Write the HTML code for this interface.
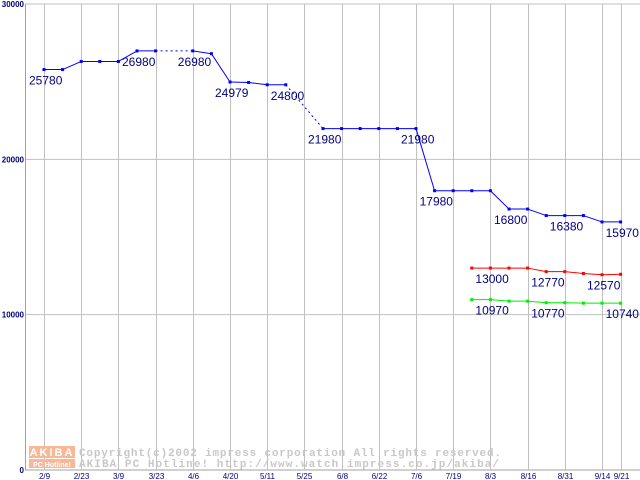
<!DOCTYPE html>
<html><head><meta charset="utf-8"><style>
html,body{margin:0;padding:0;background:#fff;width:640px;height:480px;overflow:hidden}
svg{display:block}
</style></head><body>
<svg id="chart" width="640" height="480" xmlns="http://www.w3.org/2000/svg" font-family="Liberation Sans, sans-serif">
<g id="grid"></g>
<g id="wm">
<rect x="29" y="446" width="46" height="12" fill="#f8b898"/>
<text x="52" y="456" font-size="11" fill="#fff" text-anchor="middle" font-weight="bold" letter-spacing="2">AKIBA</text>
<rect x="29" y="459" width="46" height="9" fill="#f8b898"/>
<text x="52" y="467" font-size="7" fill="#fff" text-anchor="middle" font-weight="bold">PC Hotline!</text>
<text x="79" y="456" font-size="11" fill="#c8c8c8" font-family="Liberation Mono, monospace" font-weight="bold" textLength="422" lengthAdjust="spacing">Copyright(c)2002 impress corporation All rights reserved.</text>
<text x="79" y="467" font-size="11" fill="#c8c8c8" font-family="Liberation Mono, monospace" font-weight="bold" textLength="420" lengthAdjust="spacing">AKIBA PC Hotline!  http://www.watch.impress.co.jp/akiba/</text>
</g>
<g id="series"></g>
</svg>
<script>
const xLabels=["2/9","2/23","3/9","3/23","4/6","4/20","5/11","5/25","6/8","6/22","7/6","7/19","8/3","8/16","8/31","9/14","9/21"];
const yTicks=[0,10000,20000,30000];
const blueValues=[25780,25780,26300,26300,26300,26980,26980,null,26980,26800,24979,24950,24800,24800,null,21980,21980,21980,21980,21980,21980,17980,17980,17980,17980,16800,16800,16380,16380,16380,15970,15970];
const redValues=[null,null,null,null,null,null,null,null,null,null,null,null,null,null,null,null,null,null,null,null,null,null,null,13000,13000,13000,13000,12770,12770,12650,12570,12600];
const greenValues=[null,null,null,null,null,null,null,null,null,null,null,null,null,null,null,null,null,null,null,null,null,null,null,10970,10970,10870,10870,10770,10770,10740,10740,10740];
const blueLabels=[[0,"25780"],[5,"26980"],[8,"26980"],[10,"24979"],[13,"24800"],[15,"21980"],[20,"21980"],[21,"17980"],[25,"16800"],[28,"16380"],[31,"15970"]];
const redLabels=[[24,"13000"],[27,"12770"],[30,"12570"]];
const greenLabels=[[24,"10970"],[27,"10770"],[31,"10740"]];

const NS="http://www.w3.org/2000/svg";
const X0=44,DX=18.6,Y0=470,YT=4,YMAX=30000;
const xs=i=>X0+DX*i;
const ys=v=>Y0-(v/YMAX)*(Y0-YT);
function mk(tag,attrs,parent){const e=document.createElementNS(NS,tag);for(const k in attrs)e.setAttribute(k,attrs[k]);parent.appendChild(e);return e;}
const grid=document.getElementById('grid'),ser=document.getElementById('series');
yTicks.forEach(v=>{
 const l=mk('line',{x1:25,x2:640,y1:ys(v),y2:ys(v),stroke:v===0?'#a0a0a0':'#c0c0c0','stroke-width':1},grid);
 
 
 const t=mk('text',{x:24,y:ys(v)+3,'font-size':8,'font-weight':'bold',fill:'#000080','text-anchor':'end'},grid);
 t.textContent=v;
 
 
});
const ax=mk('line',{x1:25.5,x2:25.5,y1:4,y2:470,stroke:'#a0a0a0'},grid);


xLabels.forEach((lab,k)=>{
 const i=k<16?k*2:31;
 const x=Math.round(xs(i))+0.5;
 const l=mk('line',{x1:x,x2:x,y1:4,y2:470,stroke:'#c0c0c0'},grid);
 
 
 const t=mk('text',{x:x,y:479,'font-size':8,fill:'#000080','text-anchor':'middle'},grid);
 t.textContent=lab;
 
 
});
function drawSeries(vals,color,labels,name){
 const g=mk('g',{},ser);
 
 
 let prev=-1;
 vals.forEach((v,i)=>{
  if(v==null)return;
  if(prev>=0){
   const l=mk('line',{x1:xs(prev),y1:ys(vals[prev]),x2:xs(i),y2:ys(v),stroke:color,'stroke-width':1},g);
   if(i-prev>1)l.setAttribute('stroke-dasharray','2,3');
   
   
  }
  prev=i;
 });
 vals.forEach((v,i)=>{
  if(v==null)return;
  const r=mk('rect',{x:xs(i)-1.5,y:ys(v)-1.5,width:3,height:3,fill:color},g);
  
  
 });
 labels.forEach(([i,s])=>{
  const t=mk('text',{x:xs(i)-15,y:ys(vals[i])+15,'font-size':12,fill:'#000080'},g);
  t.textContent=s;
  
  
 });
}
drawSeries(blueValues,'#0000ff',blueLabels,'blue-series');
drawSeries(redValues,'#ff0000',redLabels,'red-series');
drawSeries(greenValues,'#00ee00',greenLabels,'green-series');
</script>
</body></html>
